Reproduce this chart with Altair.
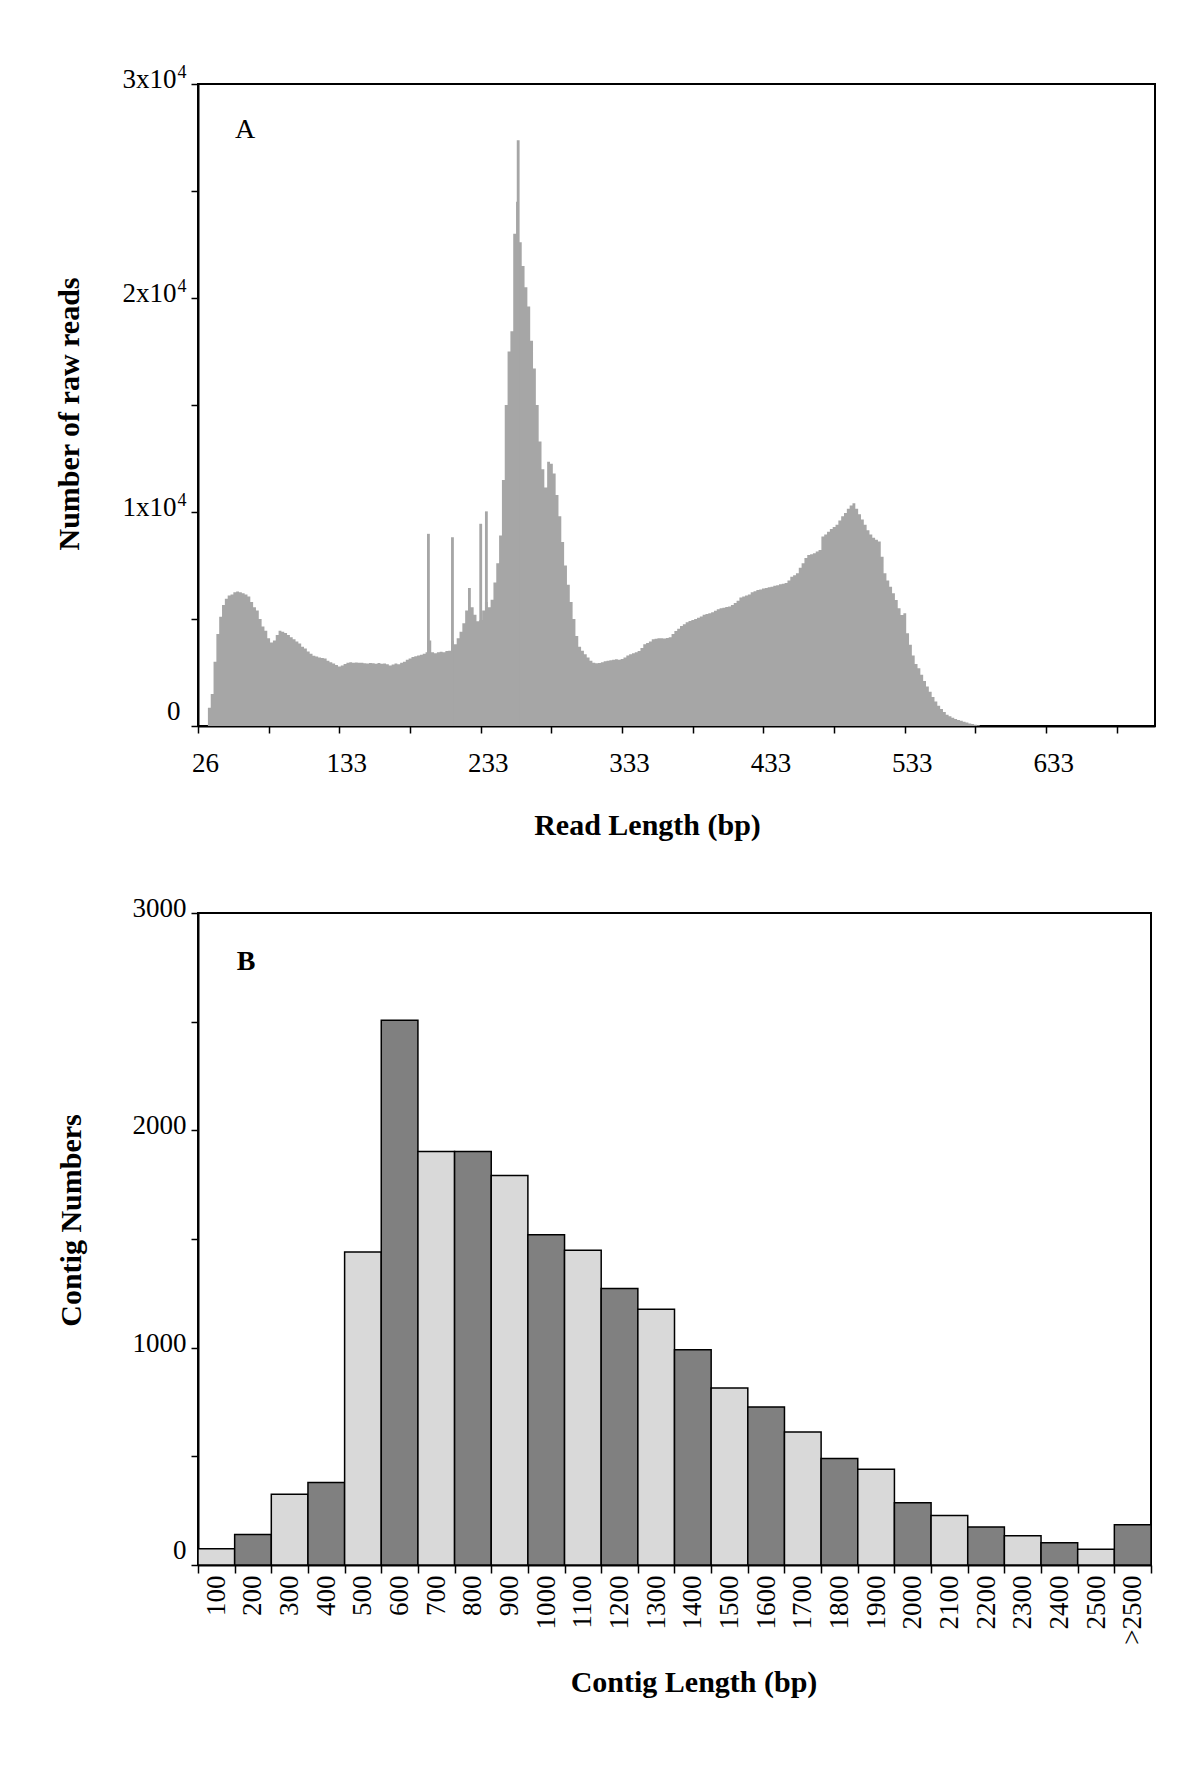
import altair as alt
import pandas as pd

# ---------------- Panel A: read length distribution ----------------
# counts per 2-bp bin, first bin starts at 40 bp
read_bin_start = 40
read_bin_width = 2
read_counts = [
    850, 1500, 3000, 4300, 5100, 5650, 5950, 6100, 6150, 6250,
    6280, 6250, 6200, 6150, 6050, 5800, 5550, 5400, 5000, 4650,
    4450, 4100, 3900, 4000, 4250, 4450, 4400, 4350, 4250, 4150,
    4050, 3950, 3850, 3700, 3620, 3480, 3380, 3280, 3250, 3200,
    3180, 3150, 3050, 2980, 2920, 2850, 2780, 2830, 2900, 2950,
    2980, 2960, 2970, 2960, 2950, 2930, 2920, 2940, 2930, 2910,
    2940, 2910, 2920, 2880, 2830, 2870, 2920, 2880, 2950, 3000,
    3100, 3150, 3220, 3260, 3300, 3330, 3380, 3450, 4000, 3450,
    3400, 3450, 3470, 3450, 3500, 3520, 4000, 3820, 4100, 4400,
    4800, 5400, 6450, 5550, 5200, 4900, 4950, 5400, 5800, 5550,
    5900, 6700, 7600, 8900, 11500, 15000, 17500, 18450, 23000, 24500,
    22600, 21500, 20500, 19600, 18000, 16700, 15000, 13300, 12000, 11150,
    12350, 12250, 11800, 10800, 9800, 8600, 7500, 6600, 5800, 5000,
    4200, 3700, 3520, 3350, 3200, 3050, 2960, 2930, 2940, 2980,
    3020, 3050, 3070, 3100, 3120, 3100, 3130, 3200, 3300, 3350,
    3400, 3450, 3510, 3650, 3820, 3880, 3950, 4050, 4080, 4100,
    4100, 4090, 4110, 4150, 4300, 4440, 4550, 4670, 4750, 4850,
    4910, 4950, 5000, 5060, 5120, 5200, 5230, 5270, 5320, 5380,
    5450, 5500, 5530, 5560, 5580, 5650, 5750, 5850, 6000, 6050,
    6100, 6150, 6250, 6300, 6360, 6380, 6420, 6450, 6480, 6510,
    6550, 6580, 6620, 6650, 6680, 6800, 6980, 7050, 7140, 7400,
    7600, 7850, 7990, 8030, 8070, 8150, 8230, 8850, 8950, 9080,
    9200, 9300, 9400, 9600, 9800, 9950, 10150, 10300, 10410, 10150,
    9900, 9650, 9400, 9150, 8950, 8800, 8700, 8620, 7910, 7140,
    6800, 6510, 6200, 5890, 5500, 5190, 5270, 4330, 3800, 3300,
    2900, 2700, 2400, 2100, 1850, 1600, 1350, 1150, 950, 800,
    650, 520, 450, 380, 330, 280, 240, 200, 160, 120,
    90, 60, 30,
]
# narrow single-length spikes
spike_lengths = [195, 212, 232, 236, 258.5]
spike_counts = [8980, 8820, 9450, 10030, 27370]
spike_width = 2

read_x_domain = [33, 710]
read_tick_values = [33 + 25 * i for i in range(28)]
read_label_values = [33, 133, 233, 333, 433, 533, 633]
read_label_texts = ["26", "133", "233", "333", "433", "533", "633"]
read_y_ticks = [0, 5000, 10000, 15000, 20000, 25000, 30000]
read_y_label_values = [0, 10000, 20000, 30000]
read_y_label_texts = ["0", "1x10", "2x10", "3x10"]
read_y_exponents = ["", "4", "4", "4"]

# ---------------- Panel B: contig length distribution ----------------
contig_bins = ["100", "200", "300", "400", "500", "600", "700", "800", "900",
               "1000", "1100", "1200", "1300", "1400", "1500", "1600", "1700",
               "1800", "1900", "2000", "2100", "2200", "2300", "2400", "2500",
               ">2500"]
contig_counts = [75, 140, 325, 380, 1440, 2507, 1903, 1903, 1792, 1520, 1448,
                 1272, 1177, 990, 814, 727, 612, 490, 440, 287, 228, 175, 135,
                 102, 72, 185]
contig_y_ticks = [0, 500, 1000, 1500, 2000, 2500, 3000]

FONT = "Liberation Serif"
GREY = "#a6a6a6"
LIGHT = "#d9d9d9"
DARK = "#808080"


def label_expr(values, texts):
    parts = " : ".join(f"datum.value == {v} ? '{t}'" for v, t in zip(values, texts))
    return parts + " : ''"


axis_common = dict(
    labelFont=FONT, labelFontSize=27, labelColor="black",
    titleFont=FONT, titleFontSize=30, titleFontWeight="bold", titleColor="black",
    domainColor="black", domainWidth=2, tickColor="black", tickWidth=1.5,
    grid=False, labelOverlap=False, labelFlush=False, labelBound=False,
)
zero_baseline = {"condition": {"test": "datum.value == 0", "value": "alphabetic"},
                 "value": "middle"}
zero_offset = {"condition": {"test": "datum.value == 0", "value": -7},
               "value": -4.5}

# area profile (step-after) with a closing point at the end of the last bin
lengths = [read_bin_start + read_bin_width * i for i in range(len(read_counts))]
area_df = pd.DataFrame({
    "len": lengths + [lengths[-1] + read_bin_width],
    "count": read_counts + [0],
})
spike_df = pd.DataFrame({
    "len": spike_lengths,
    "len_end": [s + spike_width for s in spike_lengths],
    "count": spike_counts,
})
exp_df = pd.DataFrame({"count": read_y_label_values, "sup": read_y_exponents})
exp_df = exp_df[exp_df["sup"] != ""]

x_a = alt.X(
    "len:Q",
    scale=alt.Scale(domain=read_x_domain, nice=False, zero=False),
    axis=alt.Axis(
        values=read_tick_values,
        labelExpr=label_expr(read_label_values, read_label_texts),
        tickSize=7, labelPadding=17, labelOffset=7,
        title="Read Length (bp)", titleX=449, titleY=108,
        titleBaseline="alphabetic", titleAlign="center",
        **axis_common,
    ),
)
y_a = alt.Y(
    "count:Q",
    scale=alt.Scale(domain=[0, 30000], nice=False),
    axis=alt.Axis(
        values=read_y_ticks,
        labelExpr=label_expr(read_y_label_values, read_y_label_texts),
        tickSize=7,
        labelPadding={"condition": {"test": "datum.value == 0", "value": 11}, "value": 15},
        labelOffset=zero_offset,
        labelBaseline=zero_baseline,
        title="Number of raw reads", titleX=-120, titleY=329.5,
        titleBaseline="alphabetic", titleAlign="center", titleAngle=270,
        **axis_common,
    ),
)

area = alt.Chart(area_df).mark_area(interpolate="step-after", color=GREY).encode(x=x_a, y=y_a)
spikes = alt.Chart(spike_df).mark_bar(color=GREY).encode(
    x="len:Q", x2="len_end:Q", y="count:Q", y2=alt.datum(0)
)
exponents = alt.Chart(exp_df).mark_text(
    font=FONT, fontSize=18, color="black", align="center", baseline="middle", dy=-11
).encode(x=alt.value(-16), y="count:Q", text="sup:N")
letter_a = alt.Chart(pd.DataFrame({"t": ["A"]})).mark_text(
    font=FONT, fontSize=28, color="black", align="center", baseline="middle"
).encode(text="t:N", x=alt.value(47), y=alt.value(46))

panel_a = alt.layer(area, spikes, exponents, letter_a).properties(width=957, height=642)

# Panel B
contig_df = pd.DataFrame({
    "bin": contig_bins,
    "count": contig_counts,
    "idx": list(range(len(contig_bins))),
})
bars = alt.Chart(contig_df).mark_bar(stroke="black", strokeWidth=1.5).encode(
    x=alt.X(
        "bin:N", sort=contig_bins,
        scale=alt.Scale(paddingInner=0, paddingOuter=0),
        axis=alt.Axis(
            labelAngle=-90, tickBand="extent", tickSize=8, labelPadding=2,
            title="Contig Length (bp)", titleX=495.5, titleY=126,
            titleBaseline="alphabetic", titleAlign="center",
            **axis_common,
        ),
    ),
    y=alt.Y(
        "count:Q",
        scale=alt.Scale(domain=[0, 3000], nice=False),
        axis=alt.Axis(
            values=contig_y_ticks,
            labelExpr="datum.value % 1000 == 0 ? '' + datum.value : ''",
            tickSize=7, labelPadding=5,
            labelOffset=zero_offset,
            labelBaseline=zero_baseline,
            title="Contig Numbers", titleX=-118, titleY=307,
            titleBaseline="alphabetic", titleAlign="center", titleAngle=270,
            **axis_common,
        ),
    ),
    color=alt.condition("datum.idx % 2 == 0", alt.value(LIGHT), alt.value(DARK)),
)
letter_b = alt.Chart(pd.DataFrame({"t": ["B"]})).mark_text(
    font=FONT, fontSize=28, fontWeight="bold", color="black", align="center", baseline="middle"
).encode(text="t:N", x=alt.value(48), y=alt.value(49))

panel_b = alt.layer(bars, letter_b).properties(width=953, height=652)

chart = alt.concat(panel_a, panel_b, columns=1, spacing=52).properties(
    padding={"left": 45, "top": 55, "right": 5, "bottom": 5}
).configure(font=FONT).configure_view(stroke="black", strokeWidth=2)

chart.save("out.html", embed_options={"renderer": "svg", "actions": False})
